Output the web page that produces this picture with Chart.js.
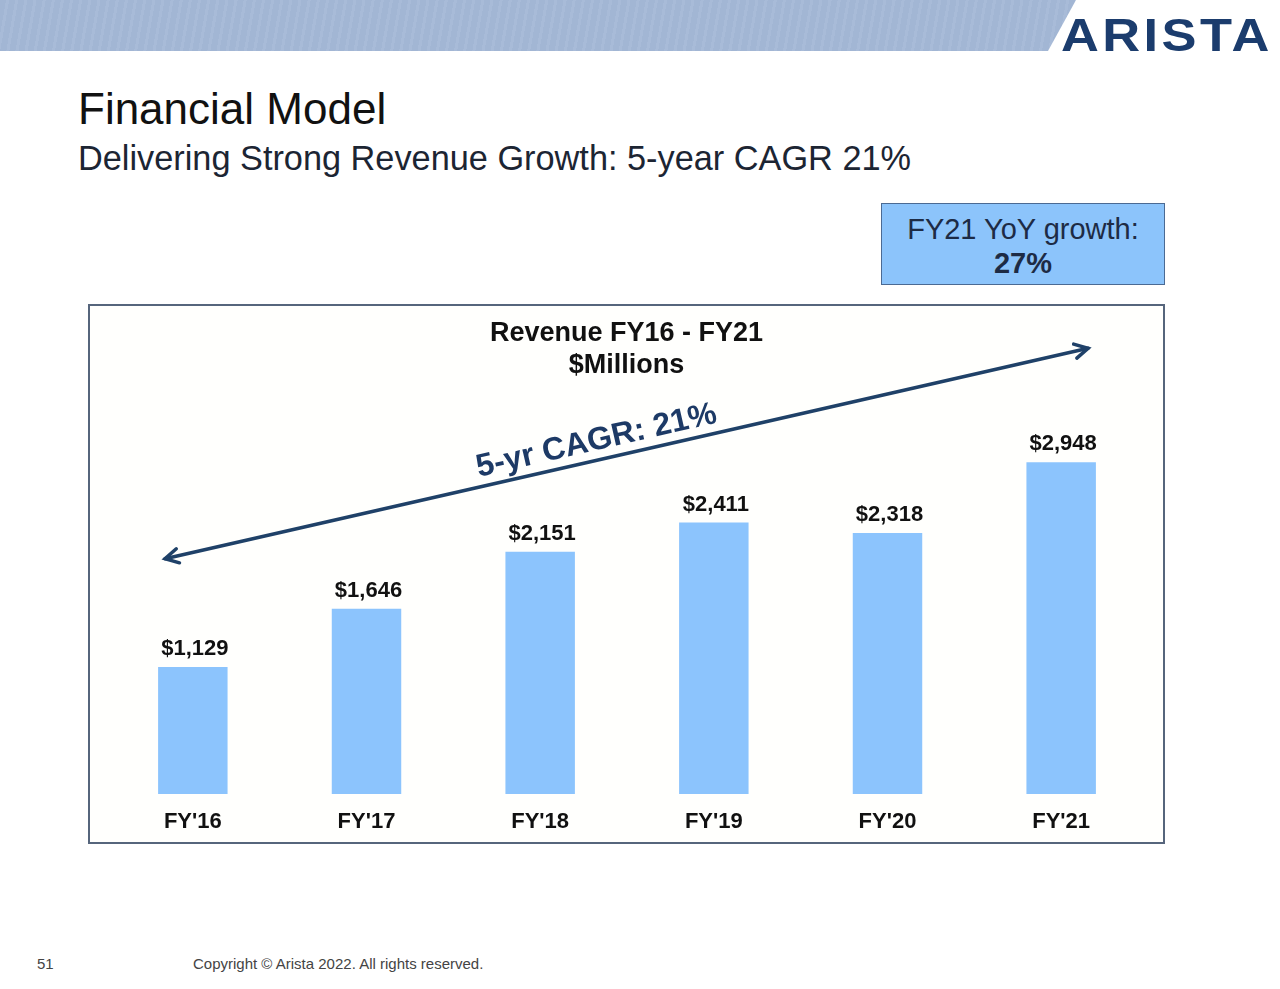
<!DOCTYPE html>
<html>
<head>
<meta charset="utf-8">
<script src="https://cdn.jsdelivr.net/npm/chart.js@4"></script>
<style>
  body { margin:0; width:1280px; height:989px; background:#fff; font-family:"Liberation Sans", Arial, sans-serif; position:relative; overflow:hidden; }
  .banner { position:absolute; left:0; top:0; width:1080px; height:51px;
    background: repeating-linear-gradient(100deg, #a2b6d4 0 6px, #a8bbd8 6px 9px);
    clip-path: polygon(0 0, 1076px 0, 1048px 51px, 0 51px); }
  .logo { position:absolute; left:1061px; top:8px; font-size:46px; font-weight:bold; color:#1b3c6d; letter-spacing:3px;
    transform: scaleX(1.14); transform-origin: left top; }
  .title { position:absolute; left:78px; top:84px; font-size:44px; color:#111; }
  .subtitle { position:absolute; left:78px; top:139px; font-size:34.3px; color:#1c2533; }
  .yoy { position:absolute; left:881px; top:203px; width:284px; height:82px; background:#8cc4fb; border:1.5px solid #4b6a93;
    text-align:center; color:#1d2b45; font-size:29px; line-height:34px; padding-top:8px; box-sizing:border-box; }
  .box { position:absolute; left:88px; top:304px; width:1077px; height:540px; border:2px solid #56657c; box-sizing:border-box; background:#fffffd; }
  .ctitle { position:absolute; left:88px; top:316px; width:1077px; text-align:center; font-size:27px; font-weight:bold; color:#111; line-height:32px; }
  #wrap { position:absolute; left:89px; top:305px; width:1075px; height:538px; }
  .foot { position:absolute; top:955px; font-size:15px; color:#444; }
</style>
</head>
<body>
<div class="banner"></div>
<div class="logo">ARISTA</div>
<div class="title">Financial Model</div>
<div class="subtitle">Delivering Strong Revenue Growth: 5-year CAGR 21%</div>
<div class="yoy">FY21 YoY growth:<br><b>27%</b></div>
<div class="box"></div>
<div id="wrap"><canvas id="revChart"></canvas></div>
<div class="ctitle">Revenue FY16 - FY21<br>$Millions</div>
<div class="foot" style="left:37px">51</div>
<div class="foot" style="left:193px">Copyright © Arista 2022. All rights reserved.</div>

<script>
// revenue, $ millions
const years = ["FY'16", "FY'17", "FY'18", "FY'19", "FY'20", "FY'21"];
const revenue = [1129, 1646, 2151, 2411, 2318, 2948];
const cagrText = '5-yr CAGR: 21%';

const fmt = v => '$' + v.toLocaleString('en-US');

// value labels above each bar
const barLabels = {
  id: 'barLabels',
  afterDatasetsDraw(chart) {
    const ctx = chart.ctx;
    ctx.save();
    ctx.font = 'bold 22px "Liberation Sans", Arial';
    ctx.fillStyle = '#111';
    ctx.textAlign = 'center';
    ctx.textBaseline = 'alphabetic';
    chart.getDatasetMeta(0).data.forEach((bar, i) => {
      ctx.fillText(fmt(revenue[i]), bar.x + 2, bar.y - 12);
    });
    ctx.restore();
  }
};

// double-headed trend arrow with the CAGR text, placed in scale units
const cagrArrow = {
  id: 'cagrArrow',
  afterDatasetsDraw(chart, args, opts) {
    const { ctx, scales: { x, y } } = chart;
    const x1 = x.getPixelForValue(opts.from[0]), y1 = y.getPixelForValue(opts.from[1]);
    const x2 = x.getPixelForValue(opts.to[0]), y2 = y.getPixelForValue(opts.to[1]);
    const ang = Math.atan2(y2 - y1, x2 - x1);
    ctx.save();
    ctx.strokeStyle = '#1f4168';
    ctx.lineWidth = 3.5;
    ctx.lineCap = 'round';
    ctx.beginPath(); ctx.moveTo(x1, y1); ctx.lineTo(x2, y2); ctx.stroke();
    const head = (px, py, a) => {
      ctx.beginPath();
      ctx.moveTo(px + 15 * Math.cos(a + 0.5), py + 15 * Math.sin(a + 0.5));
      ctx.lineTo(px, py);
      ctx.lineTo(px + 15 * Math.cos(a - 0.5), py + 15 * Math.sin(a - 0.5));
      ctx.stroke();
    };
    head(x1, y1, ang);
    head(x2, y2, ang + Math.PI);
    // text sits above the line, a bit before the middle
    const t = 0.472;
    const mx = x1 + (x2 - x1) * t, my = y1 + (y2 - y1) * t;
    ctx.translate(mx, my);
    ctx.rotate(ang);
    ctx.font = 'bold 32px "Liberation Sans", Arial';
    ctx.fillStyle = '#1d3a66';
    ctx.textAlign = 'center';
    ctx.textBaseline = 'alphabetic';
    ctx.fillText(cagrText, 0, -10);
    ctx.restore();
  }
};

new Chart(document.getElementById('revChart'), {
  type: 'bar',
  data: {
    labels: years,
    datasets: [{ data: revenue, backgroundColor: '#8cc4fd', barPercentage: 0.4, categoryPercentage: 1 }]
  },
  options: {
    responsive: true,
    maintainAspectRatio: false,
    animation: false,
    layout: { padding: { top: 95, left: 17, right: 16, bottom: 0 } },
    plugins: {
      legend: { display: false },
      tooltip: { enabled: false },
      cagrArrow: { from: [-0.16, 2090], to: [5.155, 3960] }
    },
    scales: {
      x: {
        grid: { display: false, drawTicks: false },
        border: { display: false },
        ticks: { color: '#111', font: { size: 22, weight: 'bold', family: '"Liberation Sans", Arial' }, padding: 15 },
        afterFit(s) { s.height = 49; }
      },
      y: { display: false, min: 0, max: 3500 }
    }
  },
  plugins: [barLabels, cagrArrow]
});
</script>
</body>
</html>
